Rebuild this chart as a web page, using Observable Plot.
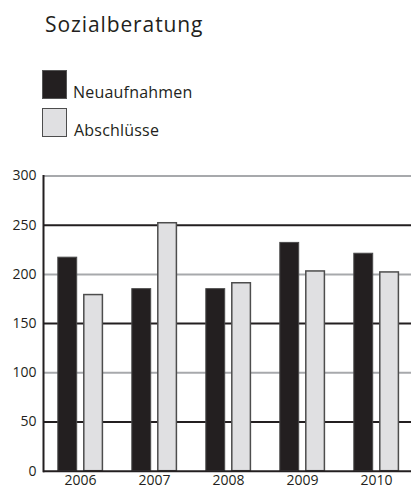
<!DOCTYPE html>
<html>
<head>
<meta charset="utf-8">
<script src="https://cdn.jsdelivr.net/npm/d3@7"></script>
<script src="https://cdn.jsdelivr.net/npm/@observablehq/plot@0.6"></script>
<style>
  html, body { margin: 0; padding: 0; background: #fff; }
  #wrap { position: relative; width: 411px; height: 488px; overflow: hidden; font-family: "Open Sans", sans-serif; color: #231f20; }
  .title { position: absolute; left: 45px; top: 14px; font-size: 21px; line-height: 21px; letter-spacing: 0.9px; white-space: nowrap; }
  .sw { position: absolute; left: 42px; width: 25px; height: 29px; box-sizing: border-box; }
  .lt { position: absolute; font-size: 16px; line-height: 16px; letter-spacing: 0.2px; white-space: nowrap; }
  #chart { position: absolute; left: 0; top: 160px; }
  #chart svg text { font-size: 14px; }
</style>
</head>
<body>
<div id="wrap">
  <div class="title">Sozialberatung</div>
  <div class="sw" style="top:70px; background:#231f20; border:1px solid #555;"></div>
  <div class="lt" style="left:73px; top:84px;">Neuaufnahmen</div>
  <div class="sw" style="top:108px; background:#e0e0e2; border:1.5px solid #4d4d4d;"></div>
  <div class="lt" style="left:74px; top:122px;">Abschlüsse</div>
  <div id="chart"></div>
</div>
<script>
const years = ["2006", "2007", "2008", "2009", "2010"];
const neuaufnahmen = [217, 185, 185, 232, 221];
const abschluesse = [179, 252, 191, 203, 202];
const yTicks = [0, 50, 100, 150, 200, 250, 300];
const gridGray = [100, 200, 300];
const gridDark = [50, 150, 250];

const rowsNeu = years.map((y, i) => ({year: y, value: neuaufnahmen[i]}));
const rowsAbs = years.map((y, i) => ({year: y, value: abschluesse[i]}));

const chart = Plot.plot({
  width: 411,
  height: 328,
  marginTop: 15.5,
  marginBottom: 17.3,
  marginLeft: 43,
  marginRight: 0,
  style: {fontFamily: "Open Sans", fontSize: "14px", color: "#231f20", background: "transparent", overflow: "visible"},
  x: {domain: years, range: [43, 413.5], padding: 0, label: null},
  y: {domain: [0, 300], label: null},
  marks: [
    Plot.ruleY(gridGray, {stroke: "#a7a9ac", strokeWidth: 2}),
    Plot.ruleY(gridDark, {stroke: "#231f20", strokeWidth: 2}),
    Plot.barY(rowsNeu, {x: "year", y: "value", fill: "#231f20", stroke: "#4a4a4a", strokeWidth: 1, insetLeft: 14.8, insetRight: 40.3}),
    Plot.barY(rowsAbs, {x: "year", y: "value", fill: "#e0e0e2", stroke: "#4d4d4d", strokeWidth: 1.5, insetLeft: 40.8, insetRight: 14.6}),
    Plot.ruleY([0], {stroke: "#231f20", strokeWidth: 2}),
    Plot.frame({anchor: "left", stroke: "#231f20", strokeWidth: 2}),
    Plot.axisY(yTicks, {tickSize: 0, tickPadding: 7, fontSize: 14, fill: "#231f20", label: null}),
    Plot.axisX({tickSize: 0, tickPadding: 4, fontSize: 14, fill: "#231f20", label: null})
  ]
});
document.getElementById("chart").appendChild(chart);
</script>
</body>
</html>
